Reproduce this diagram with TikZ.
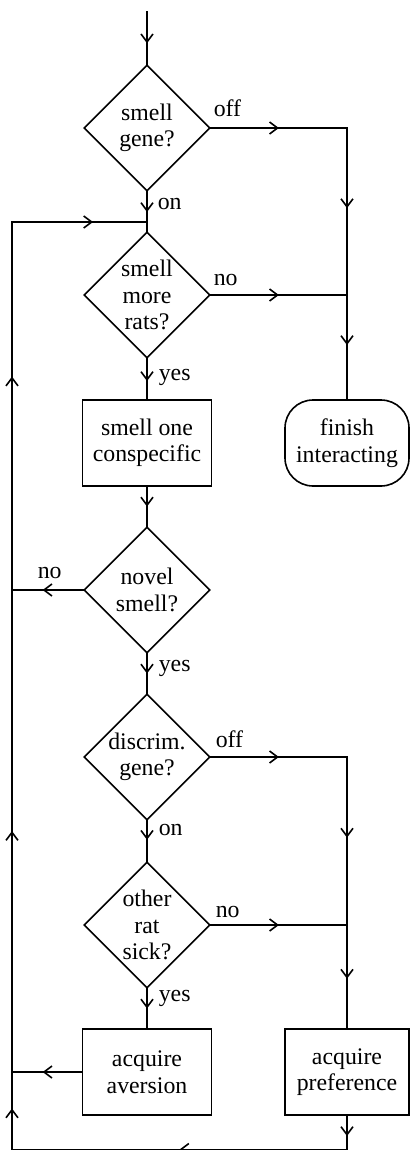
\documentclass[tikz,border=0pt]{standalone}
\usepackage{fontspec}
\setmainfont{Liberation Serif}
\usetikzlibrary{shapes.geometric,arrows.meta,decorations.markings}

\tikzset{
  flow/.style={line width=1.6pt, line cap=rect},
  midarr/.style={postaction={decorate}, decoration={markings,
      mark=at position #1 with {\arrow{Straight Barb[length=8pt,width=12pt,line cap=butt]}}}},
  midarr/.default=0.5,
  dia/.style={diamond, draw, minimum width=126, minimum height=126, inner sep=0pt, align=center},
  act/.style={rectangle, draw, minimum width=129, minimum height=86, inner sep=0pt, align=center},
  stop/.style={rectangle, draw, rounded corners=28pt, minimum width=124, minimum height=86, inner sep=0pt, align=center},
  lbl/.style={inner sep=0pt, anchor=base west}
}

\begin{document}
\begin{tikzpicture}[x=1pt, y=-1pt, flow, font=\fontsize{23.8}{26.5}\selectfont]
    \useasboundingbox (0,0) rectangle (410,1150);

    % Questions and actions down the middle
    \node[dia] (smellgene) at (147,128) {smell\\gene?};
    \node[dia] (morerats) at (147,295) {smell\\more\\rats?};
    \node[act] (smellone) at (147,443) {smell one\\conspecific};
    \node[dia] (novel) at (147,590) {novel\\smell?};
    \node[dia] (discrim) at (147,757) {discrim.\\gene?};
    \node[dia] (othersick) at (147,925) {other\\rat\\sick?};
    \node[act] (aversion) at (147,1072) {acquire\\aversion};

    % Ends on the right
    \node[stop] (finish) at (347,443) {finish\\interacting};
    \node[act, minimum width=124] (preference) at (347,1072) {acquire\\preference};

    % Corners of the lines
    \coordinate (start) at (147,12);
    \coordinate (loopin) at (147,222);
    \coordinate (offtop) at (347,128);
    \coordinate (joinA) at (347,295);
    \coordinate (offlow) at (347,757);
    \coordinate (joinB) at (347,925);
    \coordinate (bottomR) at (347,1149.5);
    \coordinate (bottomL) at (12,1149.5);
    \coordinate (leftA) at (12,1072);
    \coordinate (leftB) at (12,590);
    \coordinate (leftC) at (12,222);

    % Upper part
    \draw[midarr=0.6] (start) -- (smellgene.north);
    \draw[midarr] (smellgene.east) -- (offtop);
    \draw[midarr=0.48] (offtop) -- (joinA);
    \draw[midarr] (morerats.east) -- (joinA);
    \draw[midarr=0.48] (joinA) -- (finish.north);
    \draw[midarr=0.67] (smellgene.south) -- (loopin);
    \draw (loopin) -- (morerats.north);
    \draw[midarr=0.55] (morerats.south) -- (smellone.north);
    \draw[midarr] (smellone.south) -- (novel.north);
    \draw[midarr=0.57] (novel.west) -- (leftB);

    % Lower part
    \draw[midarr] (novel.south) -- (discrim.north);
    \draw[midarr] (discrim.east) -- (offlow);
    \draw[midarr=0.48] (offlow) -- (joinB);
    \draw[midarr] (othersick.east) -- (joinB);
    \draw[midarr=0.52] (joinB) -- (preference.north);
    \draw[midarr=0.47] (discrim.south) -- (othersick.north);
    \draw[midarr] (othersick.south) -- (aversion.north);
    \draw[midarr=0.56] (aversion.west) -- (leftA);

    % Loop back up the left side
    \draw[midarr=0.6] (preference.south) -- (bottomR);
    \draw[midarr] (bottomR) -- (bottomL);
    \draw[midarr=0.53] (bottomL) -- (leftA);
    \draw[midarr] (leftA) -- (leftB);
    \draw[midarr=0.58] (leftB) -- (leftC);
    \draw[midarr=0.6] (leftC) -- (loopin);

    % Branch labels
    \node[lbl] (off1) at (213,117) {off};
    \node[lbl] (on1) at (157,210) {on};
    \node[lbl] (no1) at (213,285) {no};
    \node[lbl] (yes1) at (158,380) {yes};
    \node[lbl] (no2) at (37,578) {no};
    \node[lbl] (yes2) at (158,671) {yes};
    \node[lbl] (off2) at (215,747) {off};
    \node[lbl] (on2) at (158,835) {on};
    \node[lbl] (no3) at (215,917) {no};
    \node[lbl] (yes3) at (158,1001) {yes};

\end{tikzpicture}
\end{document}
